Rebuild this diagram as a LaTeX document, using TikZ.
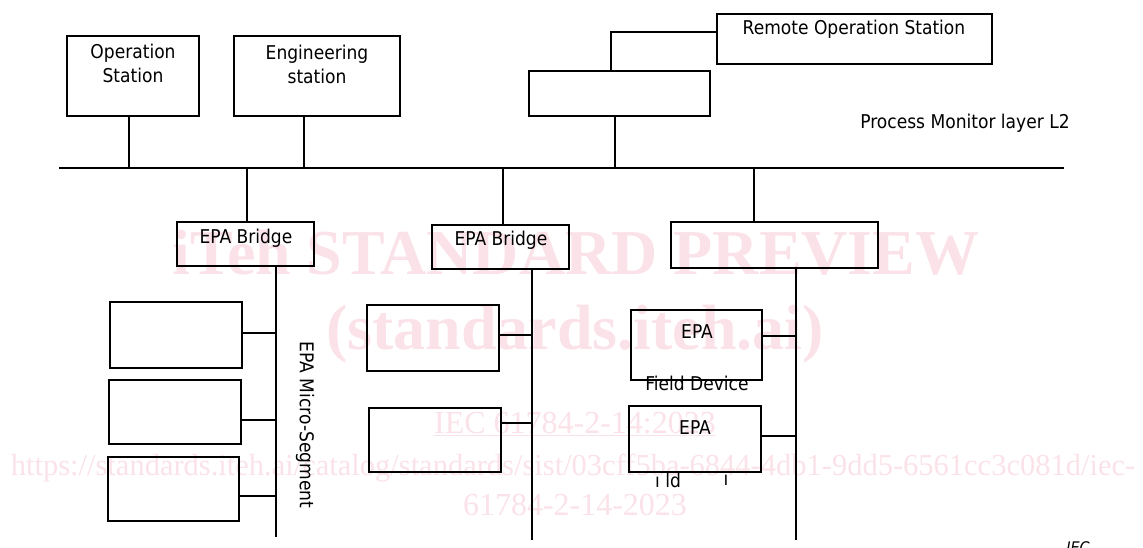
\documentclass[tikz,border=0pt]{standalone}
\usepackage{fontspec}
\setmainfont{DejaVu Sans Condensed}
\newfontfamily\wmfont{Liberation Serif}
\definecolor{wmpink}{RGB}{250,226,232}

\begin{document}
\begin{tikzpicture}[x=1pt,y=-1pt,
  wire/.style={line width=2.2pt},
  box/.style={draw,line width=2.2pt,inner sep=0pt},
  lbl/.style={font=\fontsize{19}{24}\selectfont,inner sep=0pt,align=center},
  wm/.style={text=wmpink,inner sep=0pt,anchor=base}]
\useasboundingbox (0,0) rectangle (1143,548);
\node[wm,font=\wmfont\bfseries\fontsize{64}{64}\selectfont] (wmtitle) at (576,274) {iTeh STANDARD PREVIEW};
\node[wm,font=\wmfont\bfseries\fontsize{64}{64}\selectfont] (wmsite) at (575,349) {(standards.iteh.ai)};
\node[wm,font=\wmfont\fontsize{32}{32}\selectfont] (wmstd) at (575,433) {\underline{IEC 61784-2-14:2023}};
\node[wm,font=\wmfont\fontsize{30.5}{31}\selectfont] (wmurl) at (573,475) {https://standards.iteh.ai/catalog/standards/sist/03cff5ba-6844-4db1-9dd5-6561cc3c081d/iec-};
\node[wm,font=\wmfont\fontsize{32}{32}\selectfont] (wmnum) at (575,515) {61784-2-14-2023};
\node[box,minimum width=132,minimum height=80] (ops) at (133,76) {};
\node[lbl] (opslbl) at (133,63) {Operation\\Station};
\node[box,minimum width=166,minimum height=80] (eng) at (317,76) {};
\node[lbl] (englbl) at (317,64) {Engineering\\station};
\node[box,minimum width=181,minimum height=45] (gw) at (619.5,93.5) {};
\node[box,minimum width=275,minimum height=50] (remote) at (854.5,39) {};
\node[lbl] (remotelbl) at (854,29) {Remote Operation Station};
\node[lbl] (layerlbl) at (965,123) {Process Monitor layer L2};
\coordinate (busW) at (59,168);
\coordinate (busE) at (1064,168);
\draw[wire] (busW) -- (busE);
\coordinate (opsT) at (129,168);
\coordinate (engT) at (304,168);
\coordinate (gwT) at (615,168);
\coordinate (gwUp) at (611,32);
\draw[wire] (opsT |- ops.south) -- (opsT);
\draw[wire] (engT |- eng.south) -- (engT);
\draw[wire] (gwT |- gw.south) -- (gwT);
\draw[wire] (gwUp |- gw.north) -- (gwUp) -- (gwUp -| remote.west);
\node[box,minimum width=137,minimum height=44] (br1) at (245.5,244) {};
\node[lbl] (br1lbl) at (246,238) {EPA Bridge};
\node[box,minimum width=137,minimum height=44] (br2) at (500.5,247) {};
\node[lbl] (br2lbl) at (501,240) {EPA Bridge};
\node[box,minimum width=207,minimum height=46] (br3) at (774.5,245) {};
\coordinate (tap1) at (247,168);
\coordinate (tap2) at (503,168);
\coordinate (tap3) at (754,168);
\draw[wire] (tap1 |- br1.north) -- (tap1);
\draw[wire] (tap2 |- br2.north) -- (tap2);
\draw[wire] (tap3 |- br3.north) -- (tap3);
\coordinate (seg1) at (276,537);
\coordinate (seg2) at (532,540);
\coordinate (seg3) at (796,540);
\draw[wire] (seg1 |- br1.south) -- (seg1);
\draw[wire] (seg2 |- br2.south) -- (seg2);
\draw[wire] (seg3 |- br3.south) -- (seg3);
\node[lbl,rotate=-90] (seglbl) at (305,425) {EPA Micro-Segment};
\node[box,minimum width=132,minimum height=66] (d11) at (176,335) {};
\node[box,minimum width=132,minimum height=64] (d12) at (175,412) {};
\node[box,minimum width=131,minimum height=64] (d13) at (173.5,489) {};
\node[box,minimum width=132,minimum height=66] (d21) at (433,338) {};
\node[box,minimum width=132,minimum height=64] (d22) at (435,440) {};
\node[box,minimum width=131,minimum height=70] (d31) at (696.5,345) {};
\node[lbl] (d31lbl) at (697,332) {EPA};
\node[lbl] (fdlbl) at (697,383) {Field Device};
\node[box,minimum width=132,minimum height=66] (d32) at (695,439) {};
\node[lbl] (d32lbl) at (695,428) {EPA};
\node[lbl] (frag1) at (668,480) {ı ld};
\node[lbl] (frag2) at (726,480) {ı};
\coordinate (t11) at (276,333);
\coordinate (t12) at (276,420);
\coordinate (t13) at (276,496);
\coordinate (t21) at (532,335);
\coordinate (t22) at (532,423);
\coordinate (t31) at (796,336);
\coordinate (t32) at (796,436);
\draw[wire] (t11 -| d11.east) -- (t11);
\draw[wire] (t12 -| d12.east) -- (t12);
\draw[wire] (t13 -| d13.east) -- (t13);
\draw[wire] (t21 -| d21.east) -- (t21);
\draw[wire] (t22 -| d22.east) -- (t22);
\draw[wire] (t31 -| d31.east) -- (t31);
\draw[wire] (t32 -| d32.east) -- (t32);
\node[anchor=base,inner sep=0pt,font=\itshape\fontsize{16}{16}\selectfont] (ieclbl) at (1078,553) {IEC};
\end{tikzpicture}
\end{document}
